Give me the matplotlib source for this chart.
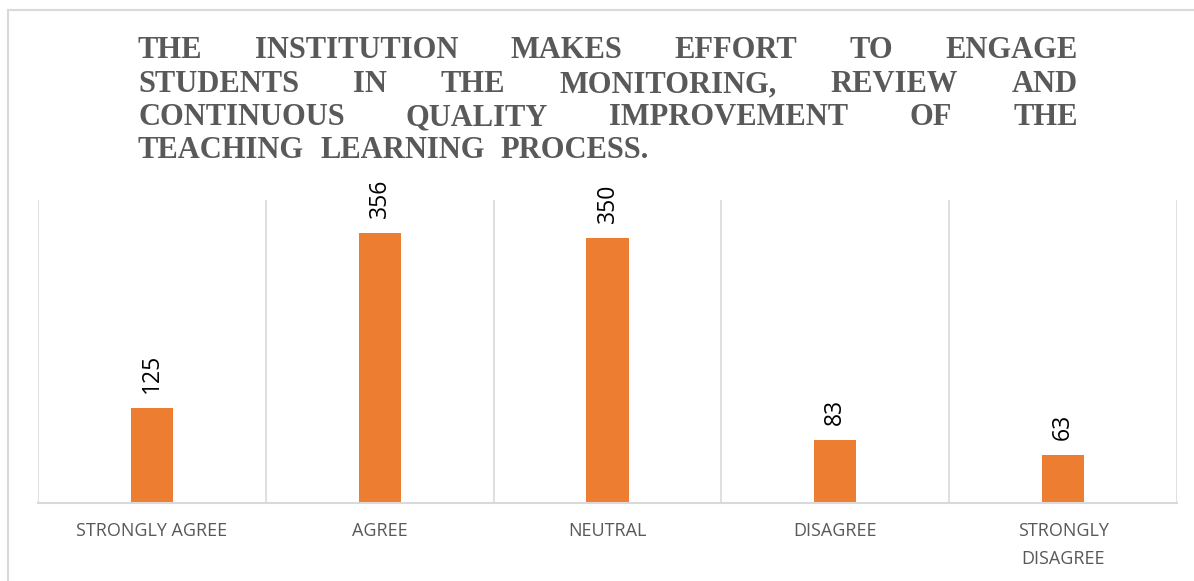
import matplotlib.pyplot as plt
from matplotlib.patches import Rectangle

# data
categories = ['STRONGLY AGREE', 'AGREE', 'NEUTRAL', 'DISAGREE', 'STRONGLY\nDISAGREE']
responses = [125, 356, 350, 83, 63]
title_lines = ['THE INSTITUTION MAKES EFFORT TO ENGAGE',
               'STUDENTS IN THE MONITORING, REVIEW AND',
               'CONTINUOUS QUALITY IMPROVEMENT OF THE',
               'TEACHING LEARNING PROCESS.']

W, H = 1194, 581
gris = '#595959'
linea = '#D9D9D9'

fig = plt.figure(figsize=(W / 100, H / 100), dpi=100)

# marco exterior
fig.patches.append(Rectangle((8 / W, -0.05), 1.1, 1 - 10 / H + 0.05, transform=fig.transFigure,
                             fill=False, edgecolor=linea, lw=1.5))

ax = fig.add_axes([38 / W, 1 - 503 / H, (1177 - 38) / W, (503 - 200) / H])
x = list(range(len(categories)))
barras = ax.bar(x, responses, width=0.185, color='#ED7D31', zorder=2)
ax.set_xlim(-0.5, len(categories) - 0.5)
ax.set_ylim(0, 400)

for b in [i - 0.5 for i in range(len(categories) + 1)]:
    ax.axvline(b, color=linea, lw=1.2, zorder=1)

for s in ['top', 'left', 'right']:
    ax.spines[s].set_visible(False)
ax.spines['bottom'].set_color(linea)
ax.spines['bottom'].set_linewidth(1.5)
ax.set_yticks([])
ax.set_xticks(x)
ax.set_xticklabels(categories, fontfamily='Open Sans', fontsize=13, color=gris,
                   linespacing=1.65)
ax.tick_params(axis='x', length=0, pad=14)

for r, v in zip(barras, responses):
    ax.annotate(str(v), (r.get_x() + r.get_width() / 2, v), xytext=(0, 11),
                textcoords='offset points', rotation=90, ha='center', va='bottom',
                fontfamily='Open Sans', fontsize=16.5, color='black')

# titulo justificado
renderer = fig.canvas.get_renderer()
izq, der = 138 / W, 1078 / W
baselines = [58, 92, 125, 158]
for n, (linea_t, yb) in enumerate(zip(title_lines, baselines)):
    palabras = linea_t.split()
    textos = [fig.text(0, 1 - yb / H, p, fontfamily='Liberation Serif', fontweight='bold',
                       fontsize=22, color=gris, va='baseline', ha='left') for p in palabras]
    anchos = [t.get_window_extent(renderer).width / W for t in textos]
    if n < len(title_lines) - 1:
        hueco = (der - izq - sum(anchos)) / (len(palabras) - 1)
    else:
        hueco = 16 / W
    xpos = izq
    for t, a in zip(textos, anchos):
        t.set_x(xpos)
        xpos += a + hueco

fig.savefig('out.png', dpi=100)
